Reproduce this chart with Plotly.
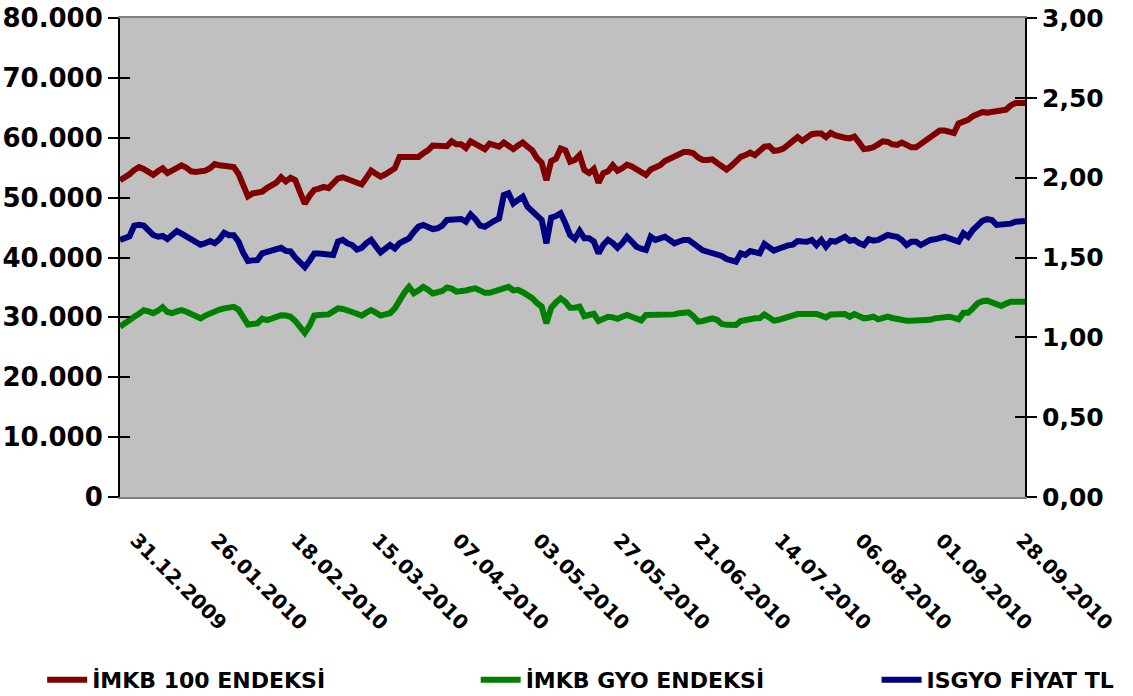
import plotly.graph_objects as go

# ---------------- data ----------------
tick_labels = ["31.12.2009", "26.01.2010", "18.02.2010", "15.03.2010", "07.04.2010",
               "03.05.2010", "27.05.2010", "21.06.2010", "14.07.2010", "06.08.2010",
               "01.09.2010", "28.09.2010"]
tick_step = 17  # trading days between labelled dates

imkb100 = [
    52900, 53300, 53900, 54600, 55100, 54800, 54300, 53800, 54400, 54900,
    54100, 54500, 55000, 55400, 55000, 54400, 54300, 54300, 54500, 54900,
    55600, 55400, 55300, 55100, 55100, 54000, 52300, 50200, 50700, 50900, 51000,
    51600, 52100, 52500, 53400, 52700, 53300, 52900, 50900, 49000, 50300,
    51300, 51500, 51800, 51600, 52500, 53200, 53400, 53100, 52800, 52500,
    52200, 53300, 54500, 54000, 53500, 53900, 54300, 54900, 56800, 56900,
    56800, 56800, 56800, 57400, 57900, 58700, 58600, 58500, 58600, 59400,
    58900, 58900, 58300, 59400, 58900, 58500, 58100, 59000, 58700, 58500, 59200,
    58700, 58100, 58700, 59200, 58500, 57900, 56600, 55800, 52900, 56100,
    56500, 58200, 57900, 56000, 56300, 57100, 54600, 54100, 54800, 52500,
    54100, 54400, 55400, 54500, 54900, 55500, 55200, 54700, 54200, 53800,
    54700, 55100, 55400, 56100, 56500, 56800, 57300, 57600, 57600, 57400, 56700,
    56300, 56300, 56400, 55800, 55200, 54700, 55300, 56000, 56800, 57100,
    57500, 57100, 57800, 58500, 58600, 57800, 57900, 58200, 58800, 59500,
    60100, 59500, 60100, 60600, 60700, 60700, 60100, 60800, 60400, 60100,
    60000, 59900, 60200, 59200, 58100, 58200, 58400, 58900, 59400, 59300,
    58900, 58800, 59200, 58800, 58400, 58400, 59000, 59300, 60100, 60700, 61200,
    61200, 61100, 60800, 62400, 62700, 63000, 63600, 63900, 64300, 64200,
    64300, 64400, 64500, 64700, 65400, 65800, 65800, 65800,
]

imkb_gyo = [
    28440, 28900, 29400, 30100, 30600, 31200, 31000, 30700, 31100, 31700,
    30900, 30700, 31000, 31200, 30950, 30600, 30200, 29850, 30300, 30700,
    31100, 31300, 31500, 31750, 31750, 31300, 29800, 28800, 28900, 29000, 29800,
    29560, 29800, 30100, 30350, 30300, 30100, 29400, 28400, 27400, 28600,
    30300, 30400, 30450, 30500, 31000, 31500, 31400, 31250, 30900, 30600,
    30300, 30800, 31200, 30800, 30300, 30500, 30700, 31500, 32900, 34100,
    35100, 34020, 34500, 35100, 34600, 34000, 34200, 34400, 35000, 34800,
    34300, 34300, 34500, 34700, 34850, 34500, 34100, 34100, 34300, 34450, 34900,
    35100, 34500, 34600, 34200, 33800, 33200, 32400, 31800, 29000, 31600,
    32500, 33180, 32600, 31600, 31600, 31780, 30200, 30500, 30600, 29400,
    29800, 30100, 30000, 29750, 30100, 30400, 30100, 29730, 29500, 30400,
    30400, 30300, 30280, 30280, 30300, 30500, 30700, 30840, 30840, 30200, 29300,
    29400, 29600, 29840, 29600, 28900, 28750, 28720, 28720, 29400, 29600,
    29840, 29840, 29840, 30500, 30000, 29450, 29600, 29840, 30200, 30560,
    30560, 30560, 30560, 30560, 30560, 30300, 30010, 30500, 30560, 30560,
    30560, 30110, 30560, 30200, 29840, 29950, 30110, 29670, 29900, 30110,
    29900, 29700, 29500, 29450, 29450, 29450, 29450, 29450, 29600, 29840, 29950,
    30100, 30110, 29900, 29670, 30780, 30780, 31500, 32350, 32700, 32790,
    32500, 32100, 31900, 32300, 32620, 32620, 32620, 32620,
]

isgyo_price = [
    1.610, 1.620, 1.632, 1.700, 1.705, 1.700, 1.672, 1.641, 1.630, 1.635,
    1.616, 1.640, 1.666, 1.650, 1.630, 1.615, 1.600, 1.580, 1.590, 1.603,
    1.589, 1.615, 1.655, 1.640, 1.640, 1.600, 1.530, 1.478, 1.482, 1.484, 1.526,
    1.536, 1.545, 1.550, 1.561, 1.541, 1.538, 1.500, 1.465, 1.440, 1.480,
    1.525, 1.525, 1.520, 1.518, 1.516, 1.600, 1.610, 1.589, 1.578, 1.550,
    1.560, 1.590, 1.610, 1.570, 1.532, 1.555, 1.578, 1.557, 1.590, 1.605,
    1.620, 1.660, 1.693, 1.704, 1.690, 1.678, 1.683, 1.700, 1.735, 1.738,
    1.741, 1.741, 1.724, 1.770, 1.740, 1.700, 1.693, 1.715, 1.730, 1.745, 1.891,
    1.902, 1.839, 1.860, 1.881, 1.818, 1.790, 1.760, 1.735, 1.589, 1.750,
    1.760, 1.777, 1.714, 1.640, 1.616, 1.666, 1.620, 1.620, 1.600, 1.526,
    1.580, 1.610, 1.590, 1.561, 1.590, 1.630, 1.600, 1.568, 1.555, 1.547,
    1.630, 1.610, 1.620, 1.630, 1.610, 1.589, 1.600, 1.610, 1.610, 1.590, 1.560,
    1.545, 1.536, 1.530, 1.520, 1.510, 1.490, 1.480, 1.474, 1.526, 1.516,
    1.540, 1.535, 1.526, 1.585, 1.565, 1.543, 1.555, 1.570, 1.576, 1.580,
    1.603, 1.600, 1.599, 1.610, 1.578, 1.610, 1.568, 1.603, 1.599, 1.615,
    1.630, 1.605, 1.610, 1.590, 1.578, 1.614, 1.605, 1.610, 1.630, 1.641,
    1.635, 1.630, 1.610, 1.578, 1.599, 1.599, 1.578, 1.595, 1.610, 1.614, 1.622,
    1.630, 1.620, 1.605, 1.599, 1.652, 1.630, 1.672, 1.700, 1.729, 1.740,
    1.735, 1.704, 1.704, 1.704, 1.712, 1.724, 1.728, 1.729,
]

series_names = ["İMKB 100 ENDEKSİ", "İMKB GYO ENDEKSİ", "ISGYO FİYAT TL"]
series_colors = ["#800000", "#008000", "#000080"]

# ---------------- figure ----------------
n = len(imkb100)
x = list(range(n))
tickvals = [i * tick_step for i in range(len(tick_labels))]

FONT = "DejaVu Sans"

fig = go.Figure()
fig.add_trace(go.Scatter(x=x, y=imkb100, mode="lines", name=series_names[0],
                         line=dict(color=series_colors[0], width=6), yaxis="y",
                         legend="legend"))
fig.add_trace(go.Scatter(x=x, y=imkb_gyo, mode="lines", name=series_names[1],
                         line=dict(color=series_colors[1], width=6), yaxis="y",
                         legend="legend2"))
fig.add_trace(go.Scatter(x=x, y=isgyo_price, mode="lines", name=series_names[2],
                         line=dict(color=series_colors[2], width=6), yaxis="y2",
                         legend="legend3"))
# invisible helpers so the inner halves of the crossing ticks are drawn
fig.add_trace(go.Scatter(x=[0], y=[None], yaxis="y3", showlegend=False, hoverinfo="skip"))
fig.add_trace(go.Scatter(x=[0], y=[None], yaxis="y4", showlegend=False, hoverinfo="skip"))

legend_common = dict(orientation="h", yanchor="middle", y=-0.382, xanchor="left",
                     font=dict(family=FONT, size=22, color="black", weight="bold"),
                     bgcolor="rgba(0,0,0,0)", itemwidth=40)

fig.update_layout(
    width=1133, height=696,
    margin=dict(l=120, r=108, t=18, b=199, autoexpand=False),
    paper_bgcolor="white",
    plot_bgcolor="#C0C0C0",
    separators=",.",
    showlegend=True,
    xaxis=dict(
        range=[0, n - 1], tickmode="array", tickvals=tickvals, ticktext=tick_labels,
        tickangle=45, ticks="", showgrid=False, zeroline=False,
        showline=True, linecolor="#808080", linewidth=1.5, mirror=True,
        tickfont=dict(family=FONT, size=20, color="black", weight="bold"),
        ticklabelstandoff=22, ticklabelshift=16, ticklabeloverflow="allow",
    ),
    yaxis=dict(
        range=[0, 80000], dtick=10000, tickformat=",.0f", showgrid=False, zeroline=False,
        showline=True, linecolor="black", linewidth=2,
        ticks="outside", ticklen=10, tickwidth=1.5, tickcolor="black",
        tickfont=dict(family=FONT, size=26, color="black", weight="bold"),
        ticklabelstandoff=0,
    ),
    yaxis2=dict(
        range=[0, 3], dtick=0.5, tickformat=".2f", overlaying="y", side="right",
        showgrid=False, zeroline=False, showline=True, linecolor="black", linewidth=2,
        ticks="outside", ticklen=10, tickwidth=1.5, tickcolor="black",
        tickfont=dict(family=FONT, size=25, color="black", weight="bold"),
    ),
    yaxis3=dict(
        range=[0, 80000], dtick=10000, overlaying="y", side="left",
        showgrid=False, zeroline=False, showline=False, showticklabels=False,
        ticks="inside", ticklen=10, tickwidth=1.5, tickcolor="black",
    ),
    yaxis4=dict(
        range=[0, 3], dtick=0.5, overlaying="y", side="right",
        showgrid=False, zeroline=False, showline=False, showticklabels=False,
        ticks="inside", ticklen=10, tickwidth=1.5, tickcolor="black",
    ),
    legend=dict(legend_common, x=-0.086),
    legend2=dict(legend_common, x=0.393),
    legend3=dict(legend_common, x=0.836),
)

fig.write_html("out.html", config={"displayModeBar": False},
               post_script="document.body.style.margin='0';")
